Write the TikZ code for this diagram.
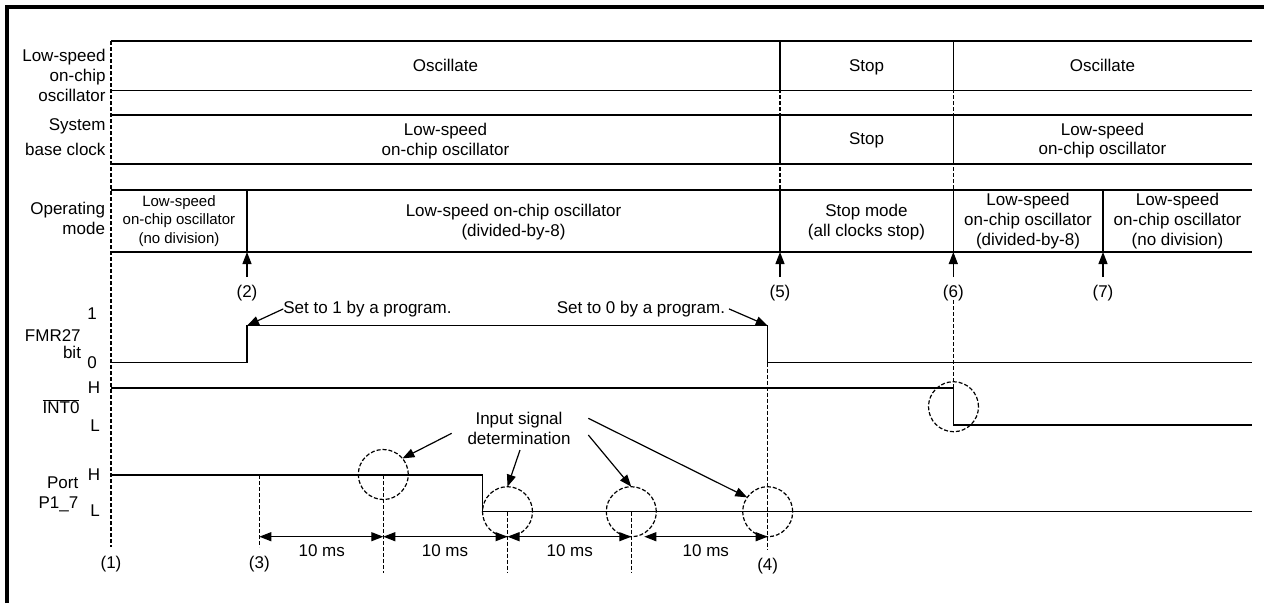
\documentclass[tikz,border=0pt]{standalone}
\usepackage{fontspec}
\setmainfont{Liberation Sans}
\usetikzlibrary{arrows.meta}
\begin{document}
\begin{tikzpicture}[x=1pt,y=-1pt,
 font=\fontsize{17}{20}\selectfont,
 every node/.style={inner sep=0pt, outer sep=0pt},
 sig/.style={line width=1.4pt},
 dsh/.style={line width=1.2pt, dash pattern=on 4pt off 2pt},
 txt/.style={align=center},
 sml/.style={align=center, font=\fontsize{15}{18.5}\selectfont},
 lbl/.style={align=right, anchor=east},
 tip/.style={line width=1.2pt, -{Triangle[length=12pt,width=9pt]}},
 dim/.style={line width=1.2pt, {Triangle[length=12pt,width=9pt]}-{Triangle[length=12pt,width=9pt]}},
 ring/.style={circle, draw, line width=1.2pt, dash pattern=on 4pt off 2pt, minimum size=50pt}
]
\useasboundingbox (0,0) rectangle (1264,603);
% frame (top and left only)
\coordinate (fa) at (7,603); \coordinate (fb) at (7,7); \coordinate (fc) at (1264,7);
\draw[line width=4pt] (fa) -- (fb) -- (fc);

% dashed timing lines
\coordinate (t1a) at (111,41);   \coordinate (t1b) at (111,547);
\coordinate (t5a) at (780,41);   \coordinate (t5b) at (780,252);
\coordinate (t6a) at (953.3,41); \coordinate (t6b) at (953.3,252);
\coordinate (t6c) at (953.3,300);\coordinate (t6d) at (953.3,388);
\draw[dsh] (t1a) -- (t1b);
\draw[dsh] (t5a) -- (t5b);
\draw[dsh] (t6a) -- (t6b);
\draw[dsh] (t6c) -- (t6d);

% row borders
\foreach \y in {41,90.7,115,164,190,252}
  \draw[sig] (111,\y) -- (1252,\y);
% row dividers
\foreach \x in {780,953.3}{
  \draw[sig] (\x,41) -- (\x,90.7);
  \draw[sig] (\x,115) -- (\x,164);
  \draw[sig] (\x,190) -- (\x,252);}
\draw[sig] (247,190) -- (247,252);
\draw[sig] (1103,190) -- (1103,252);

% left labels
\node[lbl] (lOsc) at (105.5,75.2) {Low-speed\\on-chip\\oscillator};
\node[lbl] (lSys) at (105.5,137.5) {System\\[5pt]base clock};
\node[lbl] (lOp)  at (105,218.9) {Operating\\mode};

% row 1
\node[anchor=base] (r1a) at (445.5,71) {Oscillate};
\node[anchor=base] (r1b) at (866.5,71) {Stop};
\node[anchor=base] (r1c) at (1102.5,71) {Oscillate};
% row 2
\node[txt] (r2a) at (445.5,141.2) {Low-speed\\on-chip oscillator};
\node[anchor=base] (r2b) at (866.5,144) {Stop};
\node[txt] (r2c) at (1102.5,140.6) {Low-speed\\on-chip oscillator};
% row 3
\node[sml] (r3a) at (179,221.1) {Low-speed\\on-chip oscillator\\(no division)};
\node[txt] (r3b) at (513.5,221.6) {Low-speed on-chip oscillator\\(divided-by-8)};
\node[txt] (r3c) at (866.5,222) {Stop mode\\(all clocks stop)};
\node[txt] (r3d) at (1028,220.7) {Low-speed\\on-chip oscillator\\(divided-by-8)};
\node[txt] (r3e) at (1177.5,220.7) {Low-speed\\on-chip oscillator\\(no division)};

% event arrows
\foreach \x/\n in {247/2,780/5,953.3/6,1103/7}{
  \coordinate (ea\n) at (\x,277);
  \coordinate (eb\n) at (\x,252);
  \draw[tip] (ea\n) -- (eb\n);
  \node[anchor=base] (el\n) at (\x,297.3) {(\n)};}

% signal labels
\node[anchor=base] (v1) at (92,319) {1};
\node[anchor=base] (v0) at (92,368) {0};
\node[anchor=base east] (fmr) at (80.7,341) {FMR27};
\node[anchor=base east] (fbit) at (81,358) {bit};
\node[anchor=base] (iH) at (94,393.5) {H};
\node[anchor=base east] (int) at (79.5,413) {$\overline{\hbox{INT0}}$};
\node[anchor=base] (iL) at (95,431.7) {L};
\node[anchor=base] (pH) at (94,480) {H};
\node[anchor=base east] (port) at (78.3,488) {Port};
\node[anchor=base east] (pname) at (78.3,508) {P1\_7};
\node[anchor=base] (pL) at (95,516.7) {L};

% FMR27 waveform
\coordinate (f0) at (111,362.7); \coordinate (f1) at (247,362.7);
\coordinate (f2) at (247,325.7); \coordinate (f3) at (767.7,325.7);
\coordinate (f4) at (767.7,362.7); \coordinate (f5) at (1252,362.7);
\draw[sig] (f0) -- (f1) -- (f2) -- (f3) -- (f4) -- (f5);
% INT0 waveform
\coordinate (i0) at (111,388); \coordinate (i1) at (953.3,388);
\coordinate (i2) at (953.3,425); \coordinate (i3) at (1252,425);
\draw[sig] (i0) -- (i1) -- (i2) -- (i3);
% Port waveform
\coordinate (p0) at (111,475); \coordinate (p1) at (482.7,475);
\coordinate (p2) at (482.7,511.7); \coordinate (p3) at (1252,511.7);
\draw[sig] (p0) -- (p1) -- (p2) -- (p3);

% program annotations
\node[anchor=base west] (s1) at (283.3,313.3) {Set to 1 by a program.};
\node[anchor=base east] (s0) at (725,313.3) {Set to 0 by a program.};
\draw[tip] (s1.west) -- (f2);
\draw[tip] ([xshift=4pt]s0.east) -- (f3);

% input signal determination circles
\node[ring] (c1) at (383.3,474.5) {};
\node[ring] (c2) at (507.5,511.7) {};
\node[ring] (c3) at (631.3,511.7) {};
\node[ring] (c4) at (767.7,511.7) {};
\node[ring] (c5) at (953.5,406.7) {};

% dashed sampling lines
\coordinate (d3a) at (259.3,475);  \coordinate (d3b) at (259.3,547);
\coordinate (dAa) at (383.3,475);  \coordinate (dAb) at (383.3,573);
\coordinate (dBa) at (507.5,511.7);\coordinate (dBb) at (507.5,573);
\coordinate (dCa) at (631.3,511.7);\coordinate (dCb) at (631.3,573);
\coordinate (d4a) at (767.7,362.7);\coordinate (d4b) at (767.7,550);
\draw[dsh] (d3a) -- (d3b);
\draw[dsh] (dAa) -- (dAb);
\draw[dsh] (dBa) -- (dBb);
\draw[dsh] (dCa) -- (dCb);
\draw[dsh] (d4a) -- (d4b);

% 10 ms dimensions
\coordinate (m0) at (259.3,536.7); \coordinate (m1) at (383.3,536.7);
\coordinate (m2) at (507.5,536.7); \coordinate (m3) at (631.3,536.7);
\coordinate (m3b) at (644.3,536.7); \coordinate (m4) at (767.7,536.7);
\draw[dim] (m0) -- (m1);
\draw[dim] (m1) -- (m2);
\draw[dim] (m2) -- (m3);
\draw[dim] (m3b) -- (m4);
\node[anchor=base] (ms1) at (321.7,556.7) {10 ms};
\node[anchor=base] (ms2) at (445,556.7) {10 ms};
\node[anchor=base] (ms3) at (569.7,556.7) {10 ms};
\node[anchor=base] (ms4) at (705.8,556.7) {10 ms};

% point labels
\node[anchor=base] (n1) at (111,568.3) {(1)};
\node[anchor=base] (n3) at (259.3,568.3) {(3)};
\node[anchor=base] (n4) at (767.7,570) {(4)};

% input signal determination label and arrows
\node[txt] (isd) at (519,428.3) {Input signal\\determination};
\coordinate (a1) at (451.7,433.3);
\coordinate (a2) at (520,450);
\coordinate (a3) at (588.3,435);
\coordinate (a4) at (588.3,418.3);
\draw[tip] (a1) -- (c1.40);
\draw[tip] (a2) -- (c2.north);
\draw[tip] (a3) -- (c3.north);
\draw[tip] (a4) -- (c4.145);
\end{tikzpicture}
\end{document}
